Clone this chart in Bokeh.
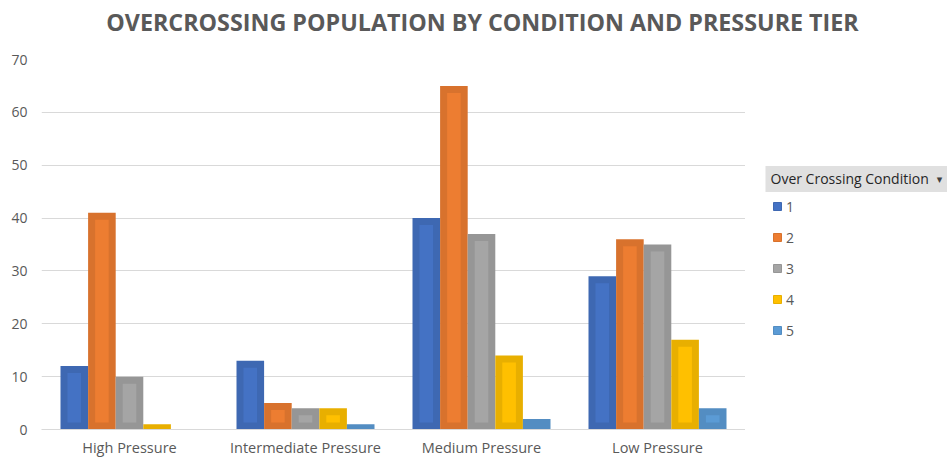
from bokeh.plotting import figure
from bokeh.layouts import column, row
from bokeh.models import Range1d, FactorRange, Legend, LegendItem, Label, ColumnDataSource
from bokeh.transform import dodge
from bokeh.embed import file_html
from bokeh.resources import INLINE

# ---- data ----
pressures = ["High Pressure", "Intermediate Pressure", "Medium Pressure", "Low Pressure"]
conditions = ["1", "2", "3", "4", "5"]
cond_1 = [12, 13, 40, 29]
cond_2 = [41, 5, 65, 36]
cond_3 = [10, 4, 37, 35]
cond_4 = [1, 4, 14, 17]
cond_5 = [0, 1, 2, 4]
y_ticks = [0, 10, 20, 30, 40, 50, 60, 70]
title_text = "OVERCROSSING POPULATION BY CONDITION AND PRESSURE TIER"
legend_title = "Over Crossing Condition"

series = [cond_1, cond_2, cond_3, cond_4, cond_5]

# ---- style ----
inner_colors = ["#4472C4", "#ED7D31", "#A5A5A5", "#FFC000", "#5B9BD5"]
outer_colors = ["#3E68B2", "#D8722D", "#969696", "#E8AF00", "#538DC2"]
FONT = "Open Sans"
TXT = "#595959"
W, H = 947, 459
TITLE_H = 36
SIDE_W = 202
MAIN_W = W - SIDE_W
MAIN_H = H - TITLE_H
LEFT, TOP, BOTTOM = 41, 23, 30
frame_w = MAIN_W - LEFT
frame_h = MAIN_H - TOP - BOTTOM
FRAME_BOTTOM = TITLE_H + TOP + frame_h  # page y of the plot frame bottom
YMAX = 70
px_per_cat = frame_w / len(pressures)
px_per_unit = frame_h / YMAX
BAR = 27.6 / px_per_cat
BORDER = 7.0


def blank(width, height):
    f = figure(width=width, height=height, output_backend="svg", toolbar_location=None,
               x_range=Range1d(0, 1), y_range=Range1d(0, 1),
               x_axis_type=None, y_axis_type=None,
               min_border=0, min_border_left=0, min_border_right=0,
               min_border_top=0, min_border_bottom=0)
    f.outline_line_color = None
    f.xgrid.visible = False
    f.ygrid.visible = False
    f.background_fill_color = "white"
    f.border_fill_color = "white"
    return f


# ---- title strip ----
t = blank(W, TITLE_H)
t.add_layout(Label(x=482, y=TITLE_H - 21, x_units="screen", y_units="screen",
                   text=title_text, text_align="center", text_baseline="middle",
                   text_font=FONT, text_font_size="23.3px", text_font_style="bold",
                   text_color=TXT))

# ---- main chart ----
p = figure(x_range=FactorRange(*pressures), y_range=Range1d(0, YMAX),
           width=MAIN_W, height=MAIN_H, output_backend="svg", toolbar_location=None,
           min_border_left=LEFT, min_border_right=0,
           min_border_top=TOP, min_border_bottom=BOTTOM)
p.outline_line_color = None
p.background_fill_color = "white"
p.border_fill_color = "white"

for i, vals in enumerate(series):
    off = (i - 2) * BAR
    src = ColumnDataSource(dict(x=pressures, top=vals))
    p.vbar(x=dodge("x", off, range=p.x_range), top="top", bottom=0, width=BAR,
           source=src, fill_color=outer_colors[i], line_color=None)
    bu = BORDER / px_per_unit
    xs, tops = [], []
    for cat, v in zip(pressures, vals):
        if v * px_per_unit > 2 * BORDER + 1:
            xs.append(cat)
            tops.append(v - bu)
    isrc = ColumnDataSource(dict(x=xs, top=tops))
    p.vbar(x=dodge("x", off, range=p.x_range), top="top", bottom=bu,
           width=BAR - 2 * BORDER / px_per_cat, source=isrc,
           fill_color=inner_colors[i], line_color=None)

p.xgrid.grid_line_color = None
p.ygrid.grid_line_color = "#d9d9d9"
p.ygrid.grid_line_width = 1
p.yaxis.ticker = y_ticks
p.yaxis.axis_line_color = None
p.yaxis.major_tick_line_color = None
p.yaxis.minor_tick_line_color = None
p.yaxis.major_tick_out = 0
p.yaxis.major_tick_in = 0
p.yaxis.major_label_standoff = 14
p.yaxis.major_label_text_font_size = "14px"
p.xaxis.axis_line_color = "#d9d9d9"
p.xaxis.major_tick_line_color = None
p.xaxis.minor_tick_line_color = None
p.xaxis.major_tick_out = 0
p.xaxis.major_tick_in = 0
p.xaxis.major_label_standoff = 8
p.xaxis.major_label_text_font_size = "14.5px"
for ax in (p.xaxis, p.yaxis):
    ax.major_label_text_font = FONT
    ax.major_label_text_color = TXT

# ---- legend panel (its frame is aligned with the chart frame) ----
s = blank(SIDE_W, MAIN_H)
handles = []
for i, c in enumerate(conditions):
    hsrc = ColumnDataSource(dict(x=[float("nan")], top=[float("nan")]))
    handles.append(s.vbar(x="x", top="top", width=0.1, source=hsrc,
                          fill_color=inner_colors[i], line_color=outer_colors[i]))
legend = Legend(items=[LegendItem(label=c, renderers=[handles[i]])
                       for i, c in enumerate(conditions)],
                location=(27, FRAME_BOTTOM - 339.5), orientation="vertical",
                glyph_width=10, glyph_height=10, label_standoff=4,
                label_height=18, spacing=12, padding=0, margin=0,
                border_line_color=None, background_fill_alpha=0,
                label_text_font=FONT, label_text_font_size="14px",
                label_text_color=TXT)
s.add_layout(legend)
s.add_layout(Label(x=20, y=FRAME_BOTTOM - 178.5, x_units="screen", y_units="screen",
                   text=legend_title, text_align="left", text_baseline="middle",
                   text_font=FONT, text_font_size="14px", text_color="#262626",
                   background_fill_color="#e0e0e0",
                   padding=dict(left=5, right=30, top=3, bottom=4)))
s.add_layout(Label(x=194, y=FRAME_BOTTOM - 178.5, x_units="screen", y_units="screen",
                   text="\u25BE", text_align="center", text_baseline="middle",
                   text_font="DejaVu Sans", text_font_size="11px", text_color="#404040"))

layout = column(t, row(p, s, spacing=0), spacing=0)
open("out.html", "w").write(file_html(layout, INLINE))
